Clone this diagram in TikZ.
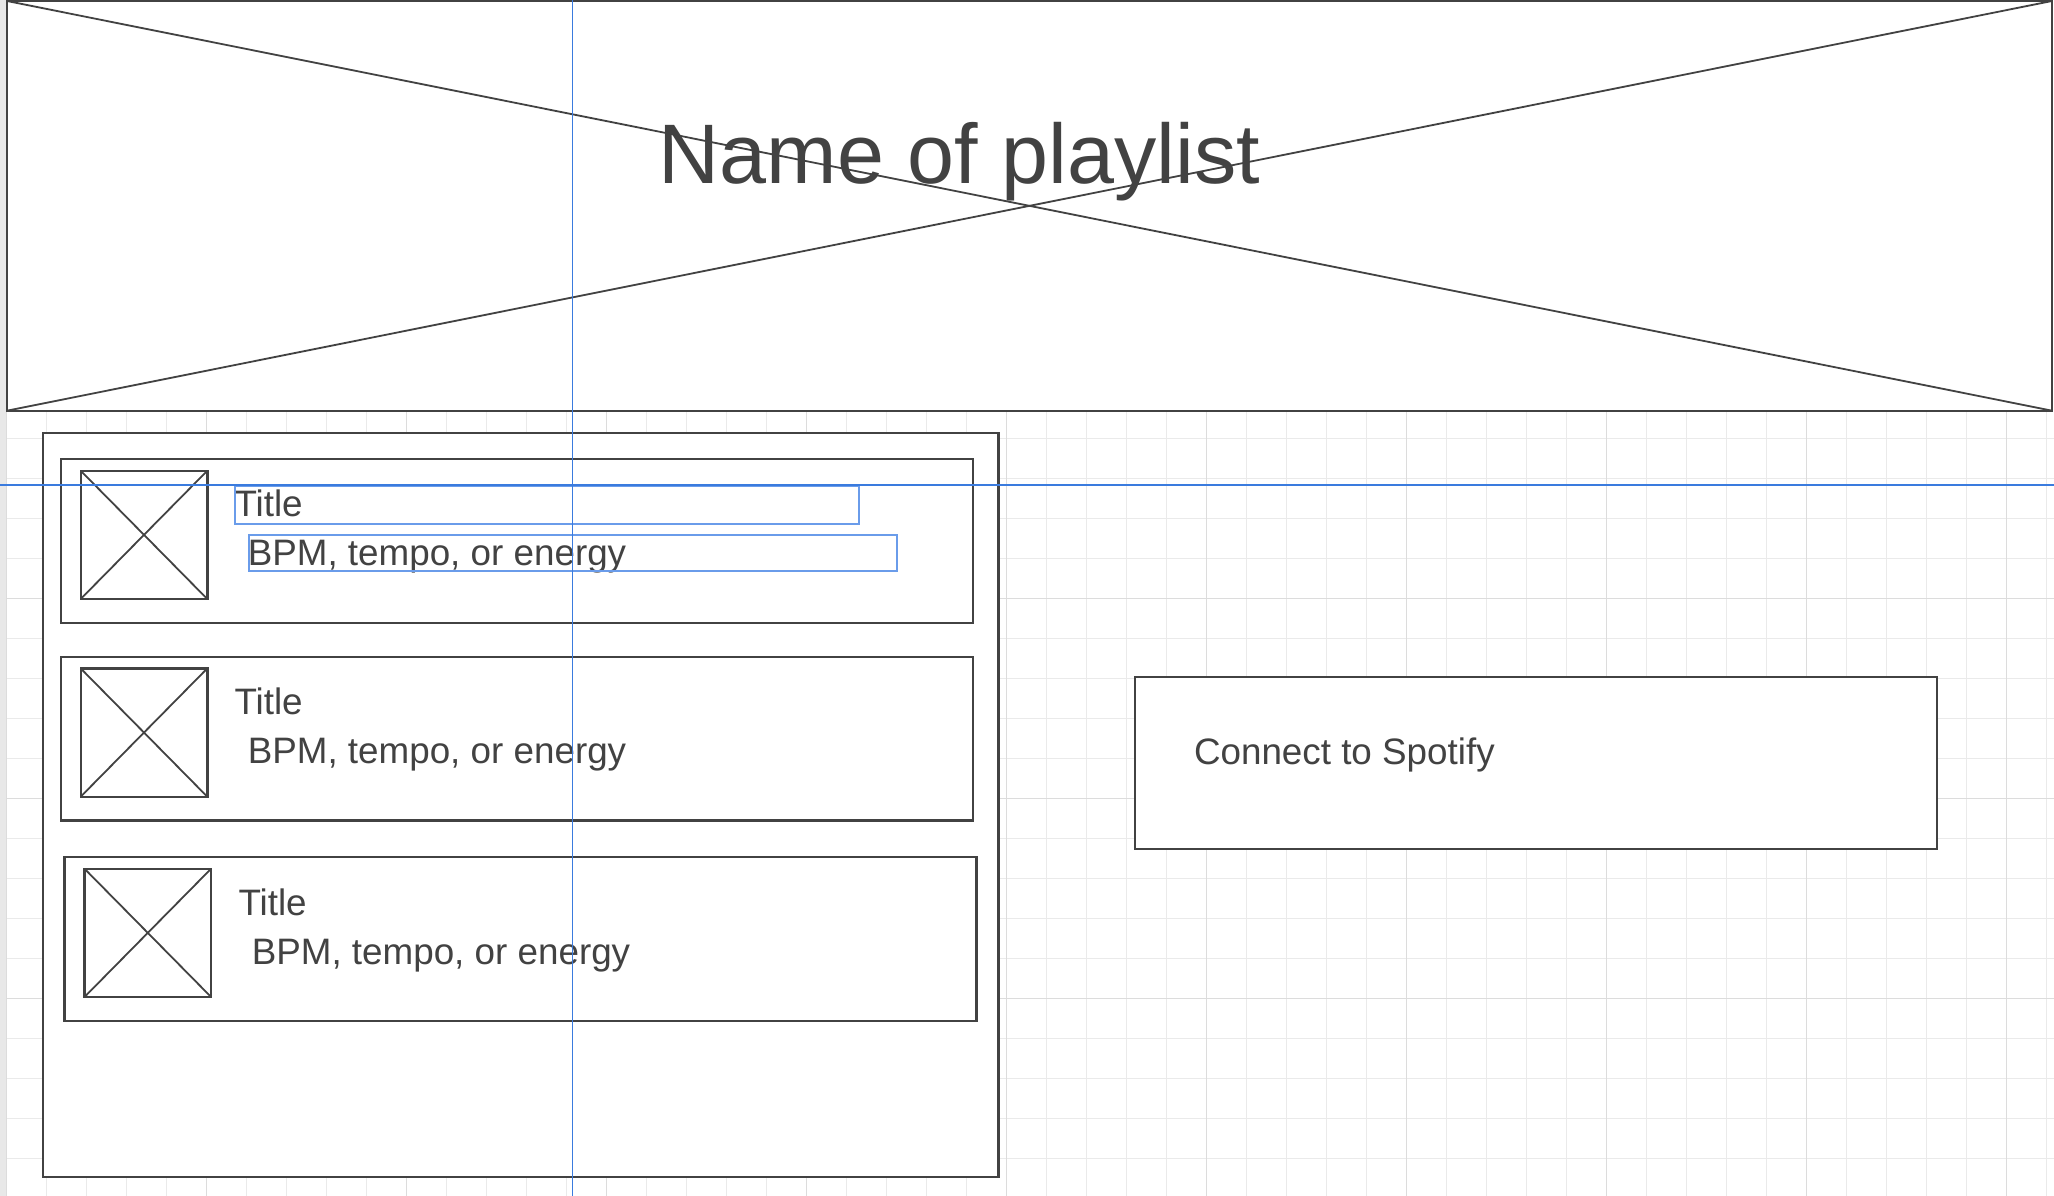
\documentclass[tikz,border=0pt]{standalone}
\usepackage{fontspec}
\setmainfont{Liberation Sans}
\definecolor{ink}{HTML}{424242}
\definecolor{gridminor}{HTML}{EAEAEA}
\definecolor{gridmajor}{HTML}{DCDCDC}
\definecolor{strip}{HTML}{E8E8E8}
\definecolor{guideblue}{HTML}{3A7BDE}
\definecolor{selblue}{HTML}{6A9CEA}
\tikzset{
  box/.style={draw=ink, line width=2.4pt, fill=white, inner sep=0pt, outer sep=0pt, anchor=north west},
  xline/.style={draw=ink, line width=1.8pt},
  lbl/.style={text=ink, anchor=base west, inner sep=0pt, outer sep=0pt, font=\fontsize{36.8}{44}\selectfont},
  bigtxt/.style={text=ink, anchor=base, inner sep=0pt, outer sep=0pt, font=\fontsize{84.5}{101}\selectfont},
  selbox/.style={draw=selblue, line width=1.8pt, inner sep=0pt, outer sep=0pt, anchor=north west},
  guide/.style={draw=guideblue, line width=1.8pt},
  minorline/.style={draw=gridminor, line width=1.3pt},
  majorline/.style={draw=gridmajor, line width=1.5pt}
}
\begin{document}
\begin{tikzpicture}[x=1pt, y=-1pt]
\useasboundingbox (0,0) rectangle (2054,1196);
\fill[white] (0,0) rectangle (2054,1196);
% grid
\foreach \k in {0,...,51} { \draw[minorline] (6.7+40*\k,411) -- (6.7+40*\k,1196); }
\foreach \k in {0,...,18} { \draw[minorline] (6.7,438.7+40*\k) -- (2054,438.7+40*\k); }
\foreach \k in {0,...,10} { \draw[majorline] (6.7+200*\k,411) -- (6.7+200*\k,1196); }
\foreach \k in {1,...,3} { \draw[majorline] (6.7,398.7+200*\k) -- (2054,398.7+200*\k); }
\fill[strip] (0,0) rectangle (6,1196);
% header
\node[box, minimum width=2045pt, minimum height=409.7pt] (hdr) at (7,1) {};
\draw[xline] (hdr.north west) -- (hdr.south east);
\draw[xline] (hdr.south west) -- (hdr.north east);
\node[bigtxt] (name) at (959.5,183.5) {Name of playlist};
% list
\node[box, minimum width=955.5pt, minimum height=744pt] (list) at (43,432.7) {};
% cards
\node[box, minimum width=912.3pt, minimum height=163.7pt] (card1) at (60.7,459) {};
\node[box, minimum width=912.3pt, minimum height=163.7pt] (card2) at (60.7,656.7) {};
\node[box, minimum width=912pt, minimum height=163.7pt] (card3) at (64.5,857) {};
\node[box, minimum width=126.6pt, minimum height=128.3pt] (img1) at (80.7,470.7) {};
\node[box, minimum width=126.6pt, minimum height=128.3pt] (img2) at (80.7,668.4) {};
\node[box, minimum width=126.6pt, minimum height=128.3pt] (img3) at (84.5,868.7) {};
\foreach \i in {1,2,3} {
  \draw[xline] (img\i.north west) -- (img\i.south east);
  \draw[xline] (img\i.south west) -- (img\i.north east);
}
\node[lbl] (t1) at (234.5,516.7) {Title};
\node[lbl] (b1) at (247.8,565.8) {BPM, tempo, or energy};
\node[lbl] (t2) at (234.5,714.4) {Title};
\node[lbl] (b2) at (247.8,763.5) {BPM, tempo, or energy};
\node[lbl] (t3) at (238.5,915) {Title};
\node[lbl] (b3) at (251.8,964.3) {BPM, tempo, or energy};
% spotify
\node[box, minimum width=802pt, minimum height=172pt] (sp) at (1135,677) {};
\node[lbl] (sptxt) at (1194,764.5) {Connect to Spotify};
% selection boxes
\node[selbox, minimum width=624.3pt, minimum height=38.3pt] (sel1) at (234.7,486) {};
\node[selbox, minimum width=648pt, minimum height=36pt] (sel2) at (249,534.7) {};
% guides
\coordinate (gvtop) at (572.4,0);
\coordinate (gvbot) at (572.4,1196);
\coordinate (ghl) at (0,485);
\coordinate (ghr) at (2054,485);
\draw[guide] (gvtop) -- (gvbot);
\draw[guide] (ghl) -- (ghr);
\end{tikzpicture}
\end{document}
